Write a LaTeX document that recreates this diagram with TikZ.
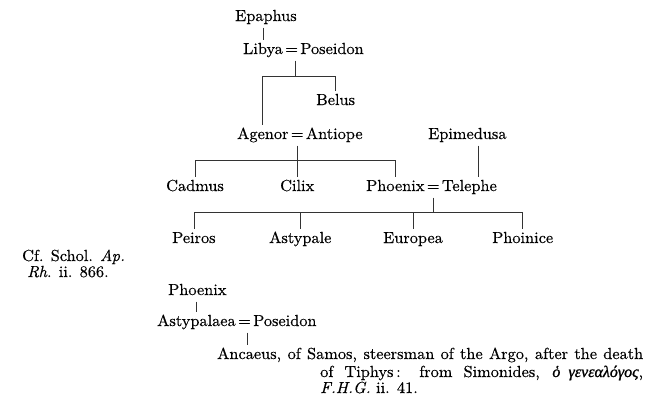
\documentclass[tikz,border=0pt]{standalone}
\usepackage{fontspec}
\setmainfont{lmroman10-regular.otf}[ItalicFont=lmroman10-italic.otf, BoldFont=lmroman10-bold.otf, FakeStretch=1.02, FakeBold=0.4]
\newfontfamily\greekfont{Liberation Serif}[FakeBold=1.2]
\begin{document}
\begin{tikzpicture}[x=1pt,y=-1pt,
  every node/.style={inner xsep=0pt, inner ysep=3pt, text height=11pt, text depth=3.5pt, font=\fontsize{16}{19}\selectfont},
  person/.style={anchor=base west},
  eqsign/.style={anchor=base west},
  link/.style={line width=0.75pt, black!80}]
\useasboundingbox (0,0) rectangle (651,400);
% first tree
\node[person] (epaphus) at (235,21) {Epaphus};
\node[person] (libya) at (243,54) {Libya};
\node[eqsign] (eqA) at ([xshift=2pt]libya.base east) {=};
\node[person] (poseidonA) at ([xshift=2pt]eqA.base east) {Poseidon};
\node[person] (belus) at (316,105) {Belus};
\node[person] (agenor) at (237,139) {Agenor};
\node[eqsign] (eqB) at ([xshift=2pt]agenor.base east) {=};
\node[person] (antiope) at ([xshift=2pt]eqB.base east) {Antiope};
\node[person] (epimedusa) at (428,139) {Epimedusa};
\node[person] (cadmus) at (166,191) {Cadmus};
\node[person] (cilix) at (280,191) {Cilix};
\node[person] (phoenix) at (366,191) {Phoenix};
\node[eqsign] (eqC) at ([xshift=2pt]phoenix.base east) {=};
\node[person] (telephe) at ([xshift=2pt]eqC.base east) {Telephe};
\node[person] (peiros) at (172,243) {Peiros};
\node[person] (astypale) at (269,243) {Astypale};
\node[person] (europea) at (383,243) {Europea};
\node[person] (phoinice) at (492,243) {Phoinice};
% note
\node[person] (cf1) at (22,261) {Cf. Schol. \textit{Ap.}};
\node[person] (cf2) at (27,277) {\textit{Rh}. ii. 866.};
% second tree
\node[person] (phoenixB) at (168,295) {Phoenix};
\node[person] (astypalaea) at (157,326) {Astypalaea};
\node[eqsign] (eqD) at ([xshift=2pt]astypalaea.base east) {=};
\node[person] (poseidonB) at ([xshift=2pt]eqD.base east) {Poseidon};
\node[person] (anc1) at (217,359) {\hbox to 426pt{Ancaeus, of Samos, steersman of the Argo, after the death}};
\node[person] (anc2) at (320,377) {\hbox to 323pt{of Tiphys\,: from Simonides, {\greekfont\itshape ὁ γενεαλόγος},}};
\node[person] (anc3) at (320,393) {\textit{F.H.G.} ii. 41.};
% bars
\coordinate (b1) at (0,76);
\coordinate (b2) at (0,160);
\coordinate (b3) at (0,212);
% connectors
\draw[link] (libya.north |- epaphus.south) -- (libya.north);
\draw[link] ([xshift=4pt]eqA.south) coordinate (a1) -- (a1 |- b1);
\draw[link] (agenor.north) -- (agenor.north |- b1) -- (belus.north |- b1) -- (belus.north);
\draw[link] (eqB.south) -- (eqB.south |- b2);
\draw[link] (cadmus.north) -- (cadmus.north |- b2) -- (phoenix.north |- b2) -- (phoenix.north);
\draw[link] (cilix.north |- b2) -- (cilix.north);
\draw[link] ([xshift=11pt]epimedusa.south) coordinate (e1) -- (e1 |- telephe.north);
\draw[link] (eqC.south) -- (eqC.south |- b3);
\draw[link] (peiros.north) -- (peiros.north |- b3) -- (phoinice.north |- b3) -- (phoinice.north);
\draw[link] (astypale.north |- b3) -- (astypale.north);
\draw[link] (europea.north |- b3) -- (europea.north);
\draw[link] (astypalaea.north |- phoenixB.south) -- (astypalaea.north);
\draw[link] ([xshift=3pt]eqD.south) coordinate (d1) -- (d1 |- anc1.north);
\end{tikzpicture}
\end{document}
